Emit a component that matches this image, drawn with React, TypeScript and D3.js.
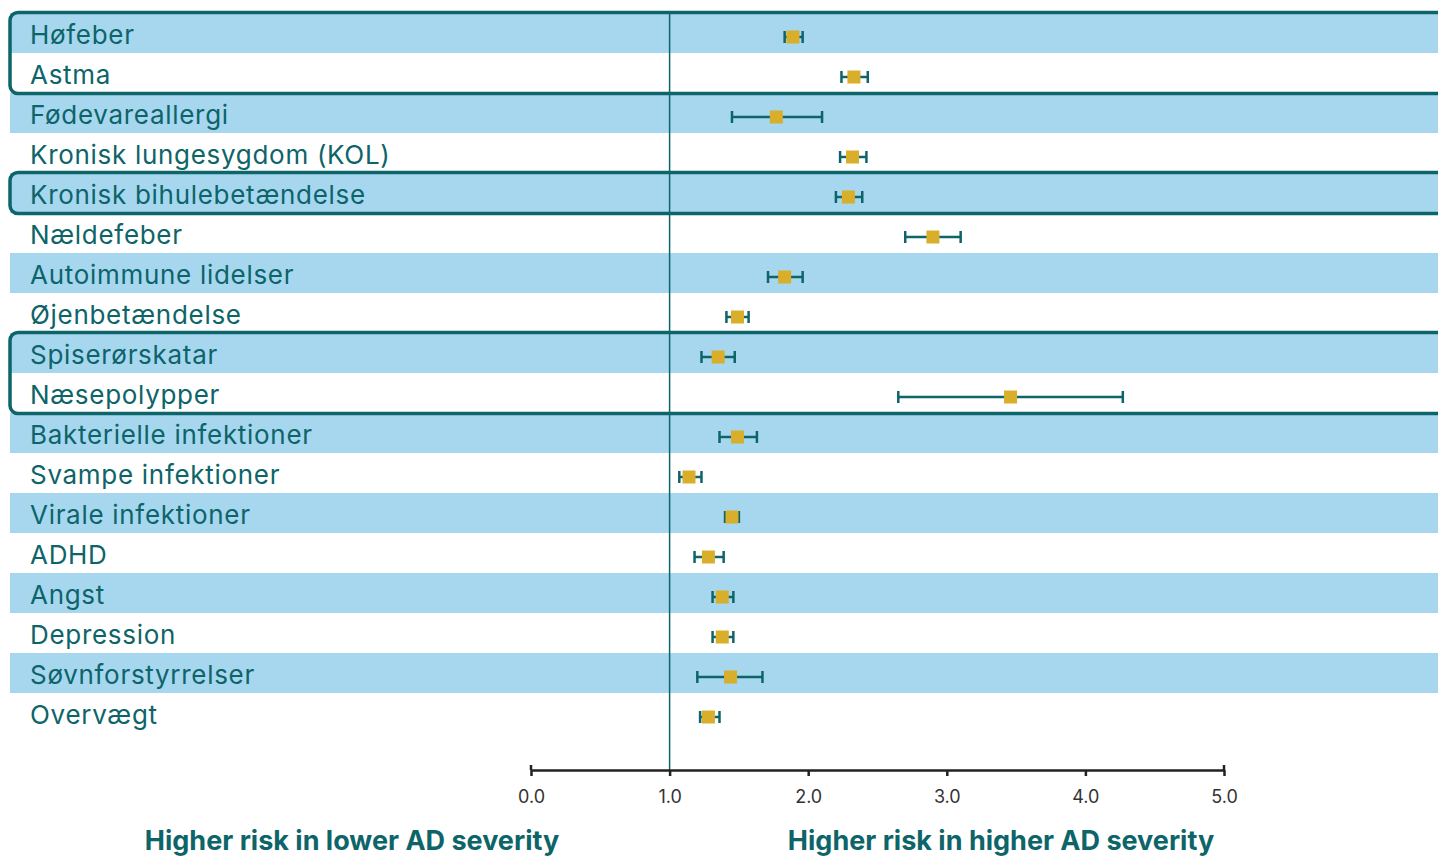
import React, { useEffect, useRef } from 'react';
import * as d3 from 'd3';

const categories = [
  'Høfeber',
  'Astma',
  'Fødevareallergi',
  'Kronisk lungesygdom (KOL)',
  'Kronisk bihulebetændelse',
  'Nældefeber',
  'Autoimmune lidelser',
  'Øjenbetændelse',
  'Spiserørskatar',
  'Næsepolypper',
  'Bakterielle infektioner',
  'Svampe infektioner',
  'Virale infektioner',
  'ADHD',
  'Angst',
  'Depression',
  'Søvnforstyrrelser',
  'Overvægt',
];

const estimates = [1.89, 2.33, 1.77, 2.32, 2.29, 2.9, 1.83, 1.49, 1.35, 3.46, 1.49, 1.14, 1.45, 1.28, 1.38, 1.38, 1.44, 1.28];
const lower = [1.83, 2.24, 1.45, 2.23, 2.2, 2.7, 1.71, 1.41, 1.23, 2.65, 1.36, 1.07, 1.4, 1.18, 1.31, 1.31, 1.2, 1.22];
const upper = [1.96, 2.43, 2.1, 2.42, 2.39, 3.1, 1.96, 1.57, 1.47, 4.27, 1.63, 1.23, 1.5, 1.39, 1.46, 1.46, 1.67, 1.36];

const tickValues = [0, 1, 2, 3, 4, 5];

const highlightGroups = [
  ['Høfeber', 'Astma'],
  ['Kronisk bihulebetændelse'],
  ['Spiserørskatar', 'Næsepolypper'],
];

const leftLabel = 'Higher risk in lower AD severity';
const rightLabel = 'Higher risk in higher AD severity';

const TEAL = '#0d6469';
const BLUE = '#a6d7ef';
const GOLD = '#d9ae2a';
const FONT = 'Inter, "Noto Sans", sans-serif';

const App: React.FC = () => {
  const svgRef = useRef<SVGSVGElement>(null);

  useEffect(() => {
    if (svgRef.current) drawChart(svgRef.current);
  }, []);

  return (
    <svg
      ref={svgRef}
      width={1438}
      height={859}
      style={{ position: 'absolute', left: 0, top: 0, display: 'block' }}
    />
  );
};

const drawChart = (el: SVGSVGElement) => {
  const width = 1438;
  const svg = d3.select(el);
  svg.selectAll('*').remove();

  const yScale = d3.scaleBand<string>().domain(categories).range([13, 733]).padding(0);
  const xScale = d3.scaleLinear().domain([0, 5]).range([531, 1224]);
  const rowH = yScale.bandwidth();

  const rows = categories.map((c, i) => ({
    label: c,
    est: estimates[i],
    lo: lower[i],
    hi: upper[i],
  }));

  // striped background
  svg
    .append('g')
    .selectAll('rect')
    .data(rows.filter((_, i) => i % 2 === 0))
    .enter()
    .append('rect')
    .attr('x', 10)
    .attr('y', (d) => yScale(d.label) || 0)
    .attr('width', width - 10)
    .attr('height', rowH)
    .attr('fill', BLUE);

  // labels
  svg
    .append('g')
    .selectAll('text')
    .data(rows)
    .enter()
    .append('text')
    .attr('x', 30)
    .attr('y', (d) => (yScale(d.label) || 0) + rowH / 2 + 11)
    .attr('fill', TEAL)
    .style('font-family', FONT)
    .style('font-size', '26px')
    .style('letter-spacing', '0.7px')
    .text((d) => d.label);

  // reference line at 1.0
  svg
    .append('line')
    .attr('x1', xScale(1))
    .attr('x2', xScale(1))
    .attr('y1', 12)
    .attr('y2', 770)
    .attr('stroke', TEAL)
    .attr('stroke-width', 1.5);

  // highlight boxes
  svg
    .append('g')
    .selectAll('rect')
    .data(highlightGroups)
    .enter()
    .append('rect')
    .attr('x', 10)
    .attr('y', (g) => (yScale(g[0]) || 0) - 0.5)
    .attr('width', width + 20)
    .attr('height', (g) => g.length * rowH + 1)
    .attr('rx', 8)
    .attr('fill', 'none')
    .attr('stroke', TEAL)
    .attr('stroke-width', 3.5);

  // error bars
  const bars = svg.append('g').selectAll('g').data(rows).enter().append('g')
    .attr('transform', (d) => `translate(0, ${(yScale(d.label) || 0) + rowH / 2 + 4})`);

  bars
    .append('line')
    .attr('x1', (d) => xScale(d.lo))
    .attr('x2', (d) => xScale(d.hi))
    .attr('stroke', TEAL)
    .attr('stroke-width', 2.5);

  bars
    .selectAll('line.cap')
    .data((d) => [d.lo, d.hi])
    .enter()
    .append('line')
    .attr('class', 'cap')
    .attr('x1', (v) => xScale(v))
    .attr('x2', (v) => xScale(v))
    .attr('y1', -6)
    .attr('y2', 6)
    .attr('stroke', TEAL)
    .attr('stroke-width', 2.5);

  bars
    .append('rect')
    .attr('x', (d) => xScale(d.est) - 6.5)
    .attr('y', -6.5)
    .attr('width', 13)
    .attr('height', 13)
    .attr('fill', GOLD);

  // x axis
  const axisY = 770;
  const axisG = svg.append('g').attr('transform', `translate(0, ${axisY})`);
  axisG.call(
    d3
      .axisBottom(xScale)
      .tickValues(tickValues)
      .tickSize(6)
      .tickPadding(14)
      .tickSizeOuter(0)
      .tickFormat((d) => d3.format('.1f')(d as number))
  );
  axisG.select('.domain').attr('stroke', '#222').attr('stroke-width', 2.5);
  axisG.selectAll('.tick line').attr('stroke', '#222').attr('stroke-width', 2.5);
  axisG
    .selectAll('.tick text')
    .attr('fill', '#333')
    .style('font-family', FONT)
    .style('font-size', '18px');
  // end caps extend above the axis line
  axisG
    .selectAll('line.endcap')
    .data([0, 5])
    .enter()
    .append('line')
    .attr('class', 'endcap')
    .attr('x1', (v) => xScale(v))
    .attr('x2', (v) => xScale(v))
    .attr('y1', -5)
    .attr('y2', 0)
    .attr('stroke', '#222')
    .attr('stroke-width', 2.5);

  // bottom labels
  svg
    .append('text')
    .attr('x', 352)
    .attr('y', 850)
    .attr('text-anchor', 'middle')
    .attr('fill', TEAL)
    .style('font-family', FONT)
    .style('font-weight', 700)
    .style('font-size', '27px')
    .text(leftLabel);

  svg
    .append('text')
    .attr('x', 1001)
    .attr('y', 850)
    .attr('text-anchor', 'middle')
    .attr('fill', TEAL)
    .style('font-family', FONT)
    .style('font-weight', 700)
    .style('font-size', '27px')
    .text(rightLabel);
};

export default App;
